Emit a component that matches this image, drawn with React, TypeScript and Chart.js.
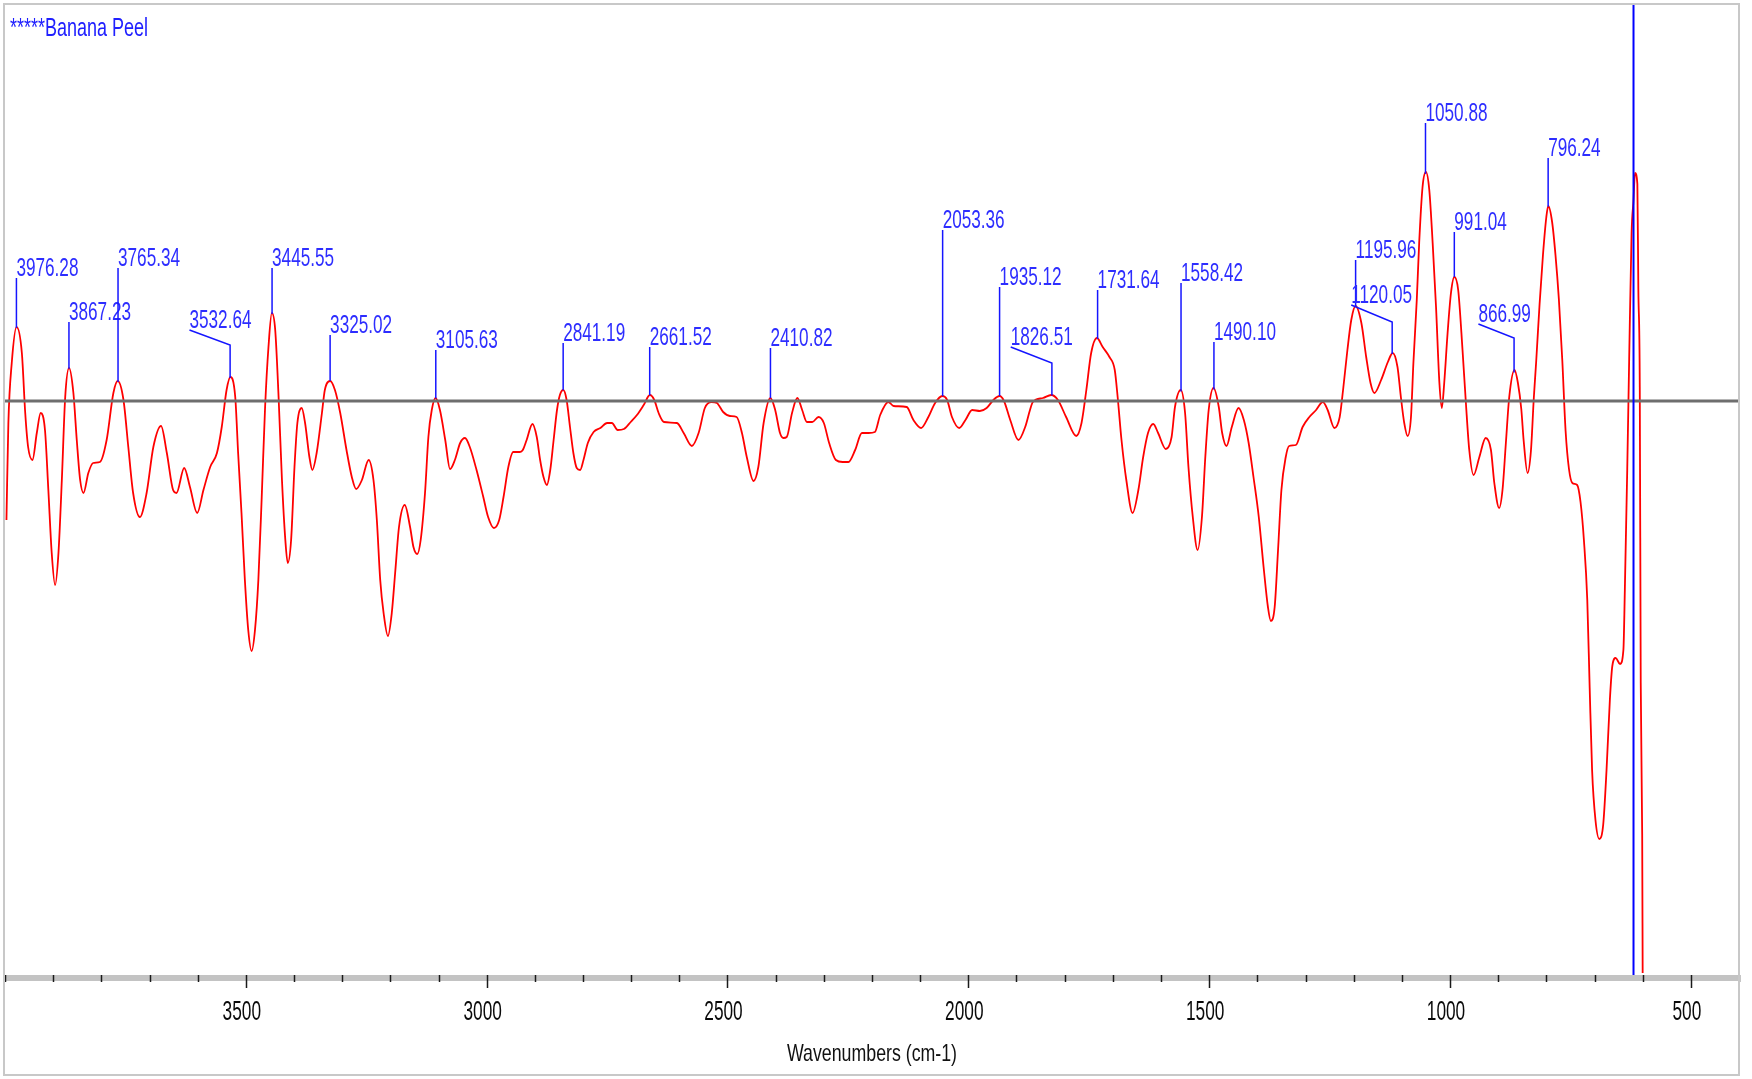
import React, { useEffect, useRef } from "react";
import { Chart, registerables } from "chart.js";

Chart.register(...registerables);

// ---- Spectrum data (wavenumber cm-1, relative intensity a.u.) ----
const wavenumbers = [
  3997, 3993, 3986, 3976, 3965, 3958, 3952, 3943, 3934, 3926, 3917, 3910, 3903, 3896, 3889, 3882, 3875, 3867, 3858, 3851,
  3844, 3837, 3827, 3817, 3803, 3789, 3775, 3766, 3754, 3744, 3734, 3720, 3706, 3692, 3676, 3664, 3651, 3644, 3628, 3616,
  3601, 3588, 3574, 3560, 3550, 3540, 3532, 3522, 3516, 3509, 3502, 3495, 3488, 3481, 3474, 3467, 3460, 3453, 3446, 3439,
  3432, 3425, 3418, 3413, 3406, 3399, 3393, 3384, 3377, 3368, 3362, 3353, 3342, 3336, 3325, 3315, 3304, 3291, 3280, 3271,
  3259, 3245, 3235, 3228, 3221, 3214, 3205, 3197, 3190, 3182, 3170, 3159, 3152, 3144, 3137, 3128, 3121, 3114, 3106, 3097,
  3086, 3076, 3066, 3055, 3045, 3035, 3021, 3007, 2997, 2985, 2974, 2965, 2955, 2945, 2931, 2925, 2917, 2905, 2896, 2889,
  2882, 2875, 2868, 2861, 2854, 2848, 2841, 2834, 2827, 2820, 2813, 2806, 2799, 2790, 2778, 2764, 2750, 2740, 2728, 2715,
  2701, 2688, 2674, 2661, 2652, 2643, 2632, 2605, 2591, 2574, 2560, 2547, 2533, 2522, 2509, 2495, 2481, 2470, 2460, 2446,
  2436, 2425, 2411, 2401, 2391, 2384, 2377, 2366, 2355, 2345, 2335, 2324, 2311, 2300, 2289, 2275, 2261, 2249, 2235, 2221,
  2207, 2194, 2183, 2166, 2155, 2128, 2114, 2098, 2083, 2069, 2054, 2044, 2034, 2019, 2006, 1992, 1976, 1962, 1948, 1935,
  1926, 1913, 1896, 1882, 1872, 1866, 1845, 1828, 1814, 1797, 1776, 1765, 1755, 1745, 1733, 1721, 1707, 1696, 1690, 1682,
  1672, 1659, 1647, 1637, 1627, 1616, 1606, 1590, 1578, 1571, 1559, 1550, 1543, 1534, 1524, 1515, 1508, 1501, 1491, 1480,
  1473, 1464, 1453, 1439, 1428, 1418, 1408, 1397, 1387, 1378, 1372, 1364, 1357, 1350, 1341, 1334, 1320, 1306, 1292, 1278,
  1264, 1254, 1240, 1229, 1222, 1213, 1205, 1196, 1184, 1174, 1165, 1157, 1143, 1129, 1119, 1109, 1102, 1095, 1088, 1081,
  1076, 1069, 1064, 1057, 1050, 1043, 1036, 1029, 1022, 1017, 1012, 1005, 998, 991, 983, 974, 967, 960, 951, 939,
  926, 915, 908, 898, 891, 884, 877, 866, 859, 852, 847, 839, 832, 826, 821, 814, 807, 800, 796, 788,
  781, 774, 767, 760, 753, 746, 736, 729, 722, 715, 710, 705, 698, 690, 682, 675, 668, 663, 656, 647,
  640, 637, 632, 628, 623, 619, 616, 611, 609, 606, 604, 601, 600,
];

const intensity = [
  -1.19, -0.22, 0.38, 0.74, 0.48, -0.12, -0.46, -0.59, -0.32, -0.12, -0.29, -0.89, -1.52, -1.84, -1.52, -0.79, 0.04, 0.33, 0.08, -0.39,
  -0.79, -0.92, -0.72, -0.62, -0.61, -0.39, 0.08, 0.2, 0.01, -0.46, -0.92, -1.16, -0.92, -0.46, -0.25, -0.52, -0.89, -0.92, -0.67, -0.86,
  -1.12, -0.89, -0.66, -0.52, -0.26, 0.11, 0.24, 0.04, -0.52, -1.12, -1.79, -2.29, -2.5, -2.29, -1.79, -0.96, -0.06, 0.54, 0.88, 0.71,
  0.04, -0.79, -1.39, -1.62, -1.39, -0.66, -0.22, -0.07, -0.22, -0.56, -0.69, -0.52, -0.12, 0.11, 0.2, 0.11, -0.12, -0.49, -0.76, -0.88,
  -0.79, -0.59, -0.79, -1.19, -1.79, -2.12, -2.35, -2.12, -1.72, -1.26, -1.04, -1.26, -1.46, -1.53, -1.39, -0.92, -0.36, -0.09, 0.03, -0.09,
  -0.39, -0.68, -0.59, -0.42, -0.37, -0.46, -0.69, -0.96, -1.16, -1.27, -1.19, -0.96, -0.66, -0.51, -0.51, -0.49, -0.39, -0.23, -0.36, -0.59,
  -0.76, -0.84, -0.69, -0.39, -0.09, 0.06, 0.11, 0.01, -0.26, -0.52, -0.67, -0.69, -0.59, -0.42, -0.31, -0.27, -0.22, -0.22, -0.29, -0.28,
  -0.21, -0.14, -0.04, 0.06, 0.01, -0.12, -0.21, -0.22, -0.32, -0.45, -0.32, -0.07, -0.01, -0.02, -0.11, -0.15, -0.16, -0.32, -0.56, -0.8,
  -0.66, -0.22, 0.03, -0.09, -0.32, -0.37, -0.36, -0.12, 0.03, -0.09, -0.21, -0.21, -0.16, -0.22, -0.42, -0.59, -0.61, -0.61, -0.49, -0.32,
  -0.32, -0.31, -0.14, -0.01, -0.05, -0.06, -0.19, -0.27, -0.16, -0.02, 0.05, 0.01, -0.16, -0.27, -0.19, -0.09, -0.1, -0.07, 0.01, 0.05,
  0.0, -0.19, -0.39, -0.26, -0.09, -0.01, 0.03, 0.06, 0.01, -0.16, -0.35, -0.22, 0.11, 0.48, 0.63, 0.54, 0.44, 0.31, 0.04, -0.39,
  -0.79, -1.12, -0.89, -0.56, -0.32, -0.23, -0.32, -0.48, -0.36, -0.06, 0.11, -0.12, -0.66, -1.16, -1.49, -1.16, -0.56, -0.09, 0.13, -0.06,
  -0.32, -0.45, -0.26, -0.07, -0.19, -0.42, -0.76, -1.16, -1.66, -2.06, -2.2, -2.06, -1.49, -0.89, -0.56, -0.45, -0.44, -0.26, -0.16, -0.09,
  -0.01, -0.09, -0.27, -0.16, 0.11, 0.51, 0.81, 0.95, 0.78, 0.44, 0.18, 0.08, 0.21, 0.39, 0.48, 0.34, 0.04, -0.22, -0.35, -0.16,
  0.38, 1.01, 1.58, 2.14, 2.29, 2.11, 1.58, 0.94, 0.18, -0.07, 0.18, 0.68, 1.08, 1.24, 1.11, 0.51, -0.02, -0.49, -0.74, -0.56,
  -0.37, -0.49, -0.82, -1.07, -0.89, -0.42, 0.04, 0.31, 0.18, -0.08, -0.4, -0.72, -0.5, 0.03, 0.4, 0.97, 1.46, 1.84, 1.95, 1.79,
  1.46, 1.02, 0.42, -0.3, -0.68, -0.82, -0.84, -1.01, -1.39, -1.99, -2.87, -3.69, -4.19, -4.38, -4.24, -3.69, -2.98, -2.65, -2.57, -2.63,
  -2.49, -1.89, -0.68, 0.42, 1.68, 2.01, 2.28, 2.17, 1.13, 0.14, -2.82, -4.33, -5.72,
];

// ---- Peak annotations ----
const peakWavenumbers = [
  3976.28, 3867.23, 3765.34, 3532.64, 3445.55, 3325.02, 3105.63, 2841.19, 2661.52, 2410.82, 2053.36,
  1935.12, 1826.51, 1731.64, 1558.42, 1490.1, 1195.96, 1120.05, 1050.88, 991.04, 866.99, 796.24,
];
const peakLabels = [
  "3976.28", "3867.23", "3765.34", "3532.64", "3445.55", "3325.02", "3105.63", "2841.19", "2661.52", "2410.82", "2053.36",
  "1935.12", "1826.51", "1731.64", "1558.42", "1490.10", "1195.96", "1120.05", "1050.88", "991.04", "866.99", "796.24",
];
// label layout (in data units): where the leader ends / text starts
const labelAnchorWn: (number | null)[] = [
  null, null, null, 3617, null, null, null, null, null, null, null,
  null, 1912, null, null, null, null, 1205, null, null, 941, null,
];
const labelTopValue = [
  1.23, 0.79, 1.33, 0.71, 1.33, 0.66, 0.51, 0.58, 0.54, 0.53, 1.71,
  1.14, 0.54, 1.11, 1.18, 0.59, 1.41, 0.96, 2.78, 1.69, 0.77, 2.43,
];
const labelElbowValue: (number | null)[] = [
  null, null, null, 0.56, null, null, null, null, null, null, null,
  null, 0.38, null, null, null, null, 0.79, null, null, 0.63, null,
];

// ---- Axes ----
const xAxisMin = 400;
const xAxisMax = 4000;
const yAxisMin = -5.76;
const yAxisMax = 3.97;
const majorTickValues = [3500, 3000, 2500, 2000, 1500, 1000, 500];
const majorTickLabels = ["3500", "3000", "2500", "2000", "1500", "1000", "500"];
const minorTickStep = 100;
const baselineValue = 0;
const cursorWavenumber = 619;
const sampleTitle = "*****Banana Peel";
const xAxisTitle = "Wavenumbers (cm-1)";

const FONT = '"Liberation Sans", Arial, sans-serif';

function curveAt(wn: number): number {
  for (let i = 0; i < wavenumbers.length - 1; i++) {
    const a = wavenumbers[i];
    const b = wavenumbers[i + 1];
    if ((wn <= a && wn >= b) || (wn >= a && wn <= b)) {
      const t = a === b ? 0 : (wn - a) / (b - a);
      return intensity[i] + t * (intensity[i + 1] - intensity[i]);
    }
  }
  return 0;
}

function drawText(
  ctx: CanvasRenderingContext2D,
  text: string,
  x: number,
  y: number,
  size: number,
  color: string,
  sx: number,
  align: CanvasTextAlign
) {
  ctx.save();
  ctx.font = `${size}px ${FONT}`;
  ctx.fillStyle = color;
  ctx.textBaseline = "alphabetic";
  ctx.textAlign = align;
  ctx.translate(x, y);
  ctx.scale(sx, 1);
  ctx.fillText(text, 0, 0);
  ctx.restore();
}

const decorPlugin = {
  id: "spectrumDecor",
  beforeDraw(chart: any) {
    const ctx = chart.ctx as CanvasRenderingContext2D;
    ctx.save();
    ctx.fillStyle = "#ffffff";
    ctx.fillRect(0, 0, chart.width, chart.height);
    ctx.restore();
  },
  afterDatasetsDraw(chart: any) {
    const ctx = chart.ctx as CanvasRenderingContext2D;
    const xs = chart.scales.x;
    const ys = chart.scales.y;
    const area = chart.chartArea;

    // peak leaders and labels
    ctx.save();
    ctx.strokeStyle = "#1515ff";
    ctx.lineWidth = 1.5;
    for (let i = 0; i < peakWavenumbers.length; i++) {
      const wn = peakWavenumbers[i];
      const px = xs.getPixelForValue(wn);
      const py = ys.getPixelForValue(curveAt(wn));
      const anchorWn = labelAnchorWn[i] ?? wn;
      const ax = xs.getPixelForValue(anchorWn);
      const ty = ys.getPixelForValue(labelTopValue[i]);
      ctx.beginPath();
      ctx.moveTo(px, py);
      const elbow = labelElbowValue[i];
      if (elbow !== null) {
        const ey = ys.getPixelForValue(elbow);
        ctx.lineTo(px, ey);
        ctx.lineTo(ax, ty);
      } else {
        ctx.lineTo(ax, ty);
      }
      ctx.stroke();
      drawText(ctx, peakLabels[i], ax, ty - 2, 26, "#2d2dff", 0.66, "left");
    }
    ctx.restore();

    // x axis band
    const bandY = area.bottom + 1;
    ctx.save();
    ctx.fillStyle = "#c3c3c3";
    ctx.fillRect(area.left, bandY - 3, area.right - area.left, 6);
    ctx.strokeStyle = "#1a1a1a";
    ctx.lineWidth = 1.5;
    for (let v = xAxisMax; v >= xAxisMin; v -= minorTickStep) {
      const x = Math.round(xs.getPixelForValue(v)) + 0.5;
      const major = majorTickValues.includes(v);
      ctx.beginPath();
      ctx.moveTo(x, bandY - 3);
      ctx.lineTo(x, major ? bandY + 10 : bandY + 4);
      ctx.stroke();
    }
    ctx.restore();

    for (let i = 0; i < majorTickValues.length; i++) {
      const x = xs.getPixelForValue(majorTickValues[i]) - 4;
      drawText(ctx, majorTickLabels[i], x, bandY + 42, 27, "#0a0a0a", 0.64, "center");
    }
    drawText(ctx, xAxisTitle, (area.left + area.right) / 2, bandY + 83, 24, "#111111", 0.74, "center");

    // sample title
    drawText(ctx, sampleTitle, area.left + 5, area.top + 32, 25, "#2020ff", 0.72, "left");

    // frame
    ctx.save();
    ctx.strokeStyle = "#c8c8c8";
    ctx.lineWidth = 2;
    ctx.strokeRect(area.left - 1, area.top - 0, area.right - area.left + 1, chart.height - 4 - area.top);
    ctx.restore();
  },
};

export default function App() {
  const canvasRef = useRef<HTMLCanvasElement | null>(null);

  useEffect(() => {
    const canvas = canvasRef.current;
    if (!canvas) return;
    const spectrum = wavenumbers.map((w, i) => ({ x: w, y: intensity[i] }));
    const chart = new Chart(canvas, {
      type: "line",
      data: {
        datasets: [
          {
            label: "Banana Peel",
            data: spectrum,
            borderColor: "#ff0000",
            borderWidth: 1.8,
            pointRadius: 0,
            fill: false,
            cubicInterpolationMode: "monotone",
            order: 2,
          },
          {
            label: "baseline",
            data: [
              { x: xAxisMax, y: baselineValue },
              { x: xAxisMin, y: baselineValue },
            ],
            borderColor: "#6e6e6e",
            borderWidth: 3,
            pointRadius: 0,
            fill: false,
            order: 1,
          },
          {
            label: "cursor",
            data: [
              { x: cursorWavenumber, y: yAxisMin },
              { x: cursorWavenumber, y: yAxisMax },
            ],
            borderColor: "#0000ff",
            borderWidth: 2,
            pointRadius: 0,
            fill: false,
            order: 0,
          },
        ],
      },
      options: {
        responsive: false,
        animation: false,
        devicePixelRatio: 1,
        parsing: true,
        layout: { padding: { left: 5, top: 4, right: 13, bottom: 102 } },
        plugins: { legend: { display: false }, tooltip: { enabled: false } },
        scales: {
          x: { type: "linear", reverse: true, min: xAxisMin, max: xAxisMax, display: false },
          y: { type: "linear", min: yAxisMin, max: yAxisMax, display: false },
        },
      },
      plugins: [decorPlugin],
    });
    return () => chart.destroy();
  }, []);

  return (
    <div style={{ position: "fixed", left: 0, top: 0, width: 1752, height: 1079, background: "#fff" }}>
      <canvas ref={canvasRef} width={1752} height={1079} style={{ width: 1752, height: 1079, display: "block" }} />
    </div>
  );
}
